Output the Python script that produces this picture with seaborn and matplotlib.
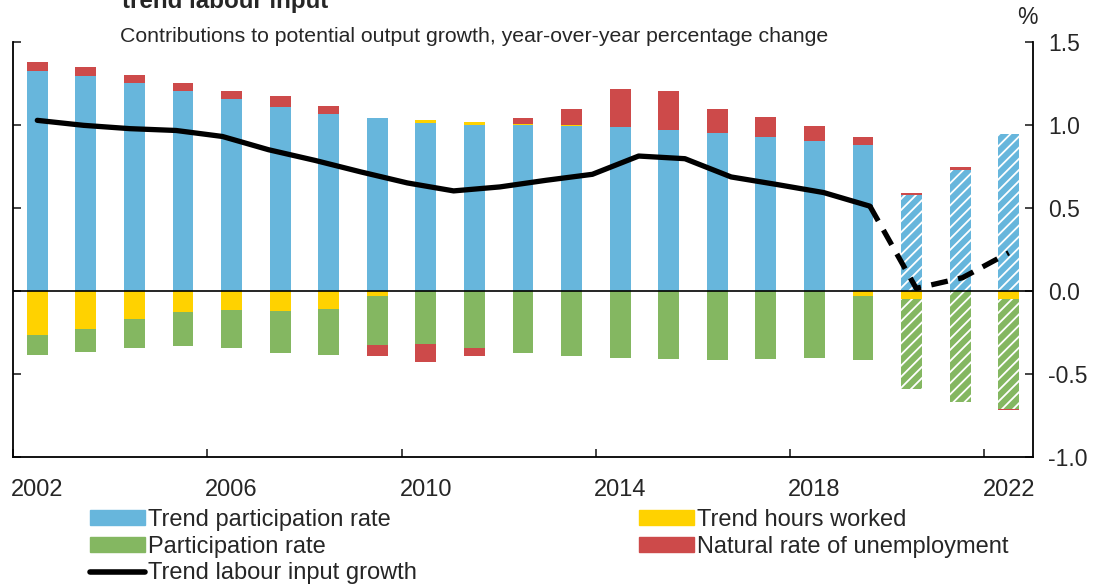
import numpy as np
import matplotlib
matplotlib.use("Agg")
import matplotlib.pyplot as plt
from matplotlib.patches import Patch
from matplotlib.lines import Line2D
import seaborn as sns

# bar data, one value per year
years = [str(y) for y in range(2002, 2023)]
trend_participation = [1.324, 1.294, 1.252, 1.204, 1.154, 1.106, 1.064, 1.044, 1.012, 1.002, 0.998,
                       0.996, 0.986, 0.970, 0.950, 0.925, 0.901, 0.877, 0.577, 0.731, 0.943]
trend_hours = [-0.268, -0.226, -0.170, -0.128, -0.114, -0.120, -0.106, -0.028, 0.016, 0.014, 0.006,
               0.003, 0.0, 0.0, 0.0, 0.0, 0.0, -0.028, -0.048, -0.003, -0.050]
participation = [-0.117, -0.143, -0.175, -0.203, -0.231, -0.255, -0.281, -0.299, -0.319, -0.343, -0.375,
                 -0.391, -0.403, -0.411, -0.413, -0.411, -0.405, -0.387, -0.543, -0.664, -0.661]
natural_rate = [0.054, 0.054, 0.052, 0.050, 0.048, 0.066, 0.048, -0.062, -0.106, -0.050, 0.038,
                0.095, 0.232, 0.236, 0.144, 0.125, 0.095, 0.048, 0.016, 0.014, -0.006]
projection_years = ["2020", "2021", "2022"]

# line data: 22 points spread evenly over the bar span
labour_growth = [1.028, 0.998, 0.978, 0.967, 0.931, 0.851, 0.787, 0.717, 0.651, 0.603, 0.627,
                 0.667, 0.703, 0.813, 0.797, 0.687, 0.641, 0.593, 0.511, 0.016, 0.080, 0.230]
solid_until = 18

xtick_labels = ["2002", "2006", "2010", "2014", "2018", "2022"]
ytick_values = [-1.0, -0.5, 0.0, 0.5, 1.0, 1.5]
ytick_labels = ["-1.0", "-0.5", "0.0", "0.5", "1.0", "1.5"]

BLUE = "#67B6DC"
YELLOW = "#FFD200"
GREEN = "#84B761"
RED = "#CD4A4A"

sns.set_style("white")
plt.rcParams["font.family"] = ["Liberation Sans", "DejaVu Sans"]
plt.rcParams["hatch.color"] = "white"
plt.rcParams["hatch.linewidth"] = 1.3

fig = plt.figure(figsize=(10.98, 5.85), dpi=100)
ax = fig.add_axes([13 / 1098, 1 - 457 / 585, 1020 / 1098, 415 / 585])

tp = np.array(trend_participation)
th = np.array(trend_hours)
pr = np.array(participation)
nr = np.array(natural_rate)

pos1 = tp
pos2 = pos1 + th.clip(min=0)
pos3 = pos2 + nr.clip(min=0)
neg1 = th.clip(max=0)
neg2 = neg1 + pr
neg3 = neg2 + nr.clip(max=0)

layers = [(pos3, RED), (pos2, YELLOW), (pos1, BLUE), (neg3, RED), (neg2, GREEN), (neg1, YELLOW)]
for vals, col in layers:
    sns.barplot(x=years, y=vals, order=years, color=col, saturation=1, width=0.43,
                linewidth=0, ax=ax)

# hatch the projection years of the blue and green layers
proj_idx = [years.index(y) for y in projection_years]
for k in (2, 4):
    for i in proj_idx:
        p = ax.containers[k][i]
        p.set_hatch("///")
        p.set_edgecolor("white")
        p.set_linewidth(0)

ax.axhline(0, color="black", lw=1.2, zorder=5)

ax.set_xlim(-0.5, len(years) - 0.5)
ax.set_ylim(-1.0, 1.5)
ax.set_yticks(ytick_values)
ax.set_yticklabels(ytick_labels)
ax.tick_params(axis="y", left=True, right=True, labelleft=False, labelright=True,
               direction="in", length=6, width=1.2, labelsize=16.5, pad=11)

# category boundary ticks every 4 years, labels under the bars
bounds = np.arange(-0.5, len(years), 4)
ax.set_xticks(bounds)
ax.set_xticklabels([""] * len(bounds))
ax.set_xticks([years.index(y) for y in xtick_labels], minor=True)
ax.set_xticklabels(xtick_labels, minor=True)
ax.tick_params(axis="x", which="major", direction="in", length=6, width=1.2, bottom=True)
ax.tick_params(axis="x", which="minor", length=0, labelsize=17, pad=16)
ax.set_xlabel("")
ax.set_ylabel("")

sns.despine(ax=ax, top=True, right=False)
for s in ("left", "right", "bottom"):
    ax.spines[s].set_linewidth(1.3)
    ax.spines[s].set_color("black")

# line on a secondary x axis
ax2 = ax.twiny()
n = len(labour_growth)
scale = (n - 1) / (len(years) - 1)
ax2.set_xlim(-0.5 * scale, (len(years) - 0.5) * scale)
idx = np.arange(n)
sns.lineplot(x=idx[:solid_until + 1], y=labour_growth[:solid_until + 1], color="black",
             lw=3.8, ax=ax2, solid_capstyle="round", solid_joinstyle="round")
sns.lineplot(x=idx[solid_until:], y=labour_growth[solid_until:], color="black",
             lw=3.8, ax=ax2, linestyle=(0, (3.2, 2.0)))
ax2.set_xticks([])
ax2.set_xlabel("")
ax2.set_ylabel("")
for s in ax2.spines.values():
    s.set_visible(False)

fig.text(122 / 1098, 1 - 8 / 585, "trend labour input", fontsize=17.4, fontweight="bold",
         va="baseline", ha="left")
fig.text(120 / 1098, 1 - 42 / 585, "Contributions to potential output growth, year-over-year percentage change",
         fontsize=15.3, va="baseline", ha="left")
fig.text(1027 / 1098, 1 - 18 / 585, "%", fontsize=16.5, va="center", ha="center")

handles = [Patch(color=BLUE), Patch(color=GREEN), Line2D([], [], color="black", lw=4),
           Patch(color=YELLOW), Patch(color=RED)]
labels = ["Trend participation rate", "Participation rate", "Trend labour input growth",
          "Trend hours worked", "Natural rate of unemployment"]
fig.legend(handles, labels, ncol=2, loc="upper left", bbox_to_anchor=(90 / 1098, 1 - 509 / 585),
           frameon=False, fontsize=17, handlelength=2.33, handleheight=0.6, handletextpad=0.13,
           columnspacing=9.4, labelspacing=0.2, borderpad=0, borderaxespad=0)

fig.savefig("out.png", dpi=100)
